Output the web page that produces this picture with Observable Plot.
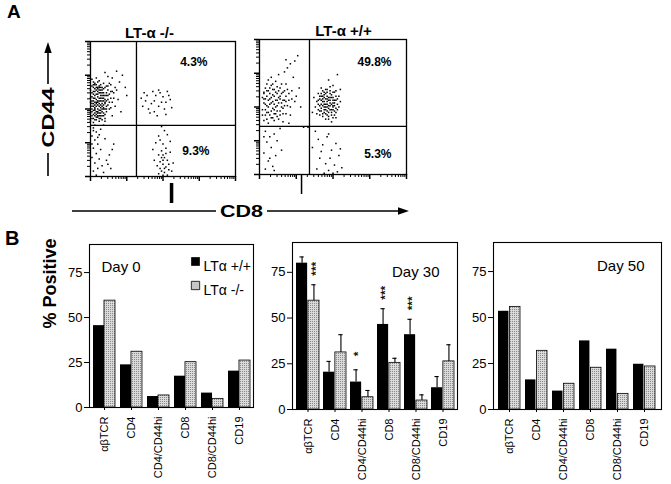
<!DOCTYPE html>
<html><head><meta charset="utf-8">
<script src="https://cdn.jsdelivr.net/npm/d3@7"></script>
<script src="https://cdn.jsdelivr.net/npm/@observablehq/plot@0.6"></script>
<style>
body{margin:0;background:#fff;}
#fig{position:relative;width:671px;height:484px;overflow:hidden;background:#fff;font-family:"Liberation Sans",Arial,Helvetica,sans-serif;}
#fig svg{position:absolute;overflow:visible;}
#fig text{fill:black;}
</style></head><body><div id="fig"></div>
<script>
// ---------- Panel B data ----------
const categories = ["αβTCR","CD4","CD4/CD44hi","CD8","CD8/CD44hi","CD19"];
const yTicks = [0,25,50,75];
const day0WT  = [45.5,23.7,6.1,17.4,8.0,20.2];
const day0KO  = [59.4,31.0,6.7,25.2,4.8,26.1];
const day30WT = [80.0,20.4,15.0,46.5,40.9,11.9];
const day30KO = [59.5,31.2,6.7,25.5,4.9,26.3];
const day30WTErr = [83.4,26.3,21.7,55.1,49.3,18.0];
const day30KOErr = [68.2,40.9,10.4,28.0,8.0,35.4];
const day30WTSig = ["","","*","***","***",""];
const day30KOSig = ["***","","","","",""];
const day50WT = [53.4,16.1,10.0,37.3,32.8,24.6];
const day50KO = [55.8,31.9,14.0,22.7,8.5,23.4];
const legendLabels = ["LTα +/+","LTα -/-"];

// ---------- Panel A data (percent of plot range, log channels) ----------
const koTitle = "LT-α -/-";
const wtTitle = "LT-α +/+";
const koGate = [31.7, 37.8];
const wtGate = [34, 35.6];
const koPct = ["4.3%","9.3%"];
const wtPct = ["49.8%","5.3%"];
const koMarker = [55.9, -5.2, -20];
const wtMarker = [28.6, -0.7, -14.8];
const koPoints = [
[2,70],[4,68],[6,71],[3,65],[5,63],[8,66],[1,62],[7,60],[9,62],[2,58],[4,57],[6,58],[10,57],[3,55],[5,53],[8,54],[1,52],[7,51],[11,52],[2,49],[4,48],[6,49],[9,47],[3,45],[5,44],[8,45],[1,43],[10,43],[6,41],[2,40],[4,61],[7,64],[9,69],[12,60],[13,55],[11,48],[3,60],[5,66],[8,58],[1,56],[6,54],[10,50],[2,46],[4,52],[12,64],[14,58],[7,47],[9,53],[3,50],[5,59],[1,67],[6,62],[8,50],[11,56],[2,63],[4,44],[13,50],[7,56],[5,47],[3,42],
[2,66],[4,64],[6,66],[8,62],[10,60],[3,53],[5,50],[7,53],[9,56],[1,48],[4,55],[6,45],[2,54],[8,48],[10,54],[3,68],[5,56],[7,58],[9,50],[11,60],
[1,45],[3,47],[5,45],[7,43],[9,45],[1,50],[3,51],[5,48],[7,49],[9,51],[11,50],[0,55],[2,56],[4,54],[6,56],[8,56],[10,55],[12,57],[1,59],[3,58],[5,61],[7,62],[9,60],[11,62],[0,64],[2,61],[4,66],[6,64],[8,64],[10,66],[3,69],[5,70],[7,68],[1,72],[4,73],[6,67],[9,65],[11,67],[2,52],[6,52],[8,52],[10,46],[4,46],[6,47],[0,47],[12,53],[13,61],[14,63],[12,67],[2,68],[0,58],[3,63],[5,65],[7,66],[8,60],[9,58],[1,54],[3,49],[5,55],[7,45],[4,42],[2,43],[6,43],[8,42],[10,41],[0,41],[15,55],[14,51],[16,58],[17,66],[13,69],[15,63],
[15,73],[18,78],[20,70],[22,75],[24,66],[16,62],[19,57],[14,68],[25,60],[17,52],[21,48],[12,74],[10,77],[15,45],[18,64],
[2,36],[4,33],[1,30],[6,31],[3,27],[5,24],[2,21],[7,20],[4,17],[1,14],[6,13],[3,10],[8,8],[5,6],[2,4],[9,3],[4,1],[11,12],[13,16],[15,20],[16,24],[12,9],[14,6],[10,28],[7,35],[9,38],[3,38],[1,24],[5,29],[2,34],
[35,58],[38,56],[42,54],[45,60],[48,62],[50,59],[53,63],[55,57],[40,50],[44,48],[47,52],[51,50],[36,52],[43,63],[49,55],[52,46],[46,45],[39,60],[56,51],[41,47],[44,56],[47,64],[52,55],[54,60],[37,62],
[49,37],[51,34],[47,30],[53,31],[48,27],[50,24],[45,25],[52,21],[49,19],[55,18],[47,16],[51,14],[53,12],[48,11],[50,9],[46,8],[52,7],[54,5],[49,4],[51,3],[47,2],[53,1],[50,1],[56,4],[44,12],[43,20],[55,26],[57,10],[50,16],[48,6],[52,17],[50,12],[54,9],[49,14],[51,6]
];
const wtPoints = [
[4,64],[6,62],[8,66],[10,63],[12,60],[14,64],[16,61],[18,58],[5,58],[7,56],[9,59],[11,55],[13,57],[15,53],[17,55],[19,51],[4,52],[6,50],[8,53],[10,48],[12,51],[14,47],[16,49],[18,45],[5,46],[7,44],[9,42],[11,45],[13,41],[3,40],[6,38],[20,60],[22,56],[3,56],[2,48],[15,67],[11,69],[8,72],[13,74],[17,76],[19,79],[21,82],[24,84],[18,85],[26,88],[23,72],[27,64],[25,58],[28,50],[21,44],[6,70],[3,61],[9,49],[12,43],[16,39],[20,38],[4,44],[14,56],[10,52],[18,67],
[3,60],[5,62],[7,60],[9,63],[11,61],[13,62],[15,60],[17,62],[4,56],[6,55],[8,57],[10,58],[12,55],[14,58],[16,55],[18,54],[3,53],[5,51],[7,52],[9,54],[11,50],[13,53],[15,50],[17,51],[2,44],[4,48],[6,46],[8,47],[10,45],[12,47],[14,44],[16,45],[7,64],[9,67],[12,65],[5,67],[2,57],[20,55],[19,63],[21,50],[8,42],[10,40],[5,41],[22,62],[24,54],
[41,58],[43,56],[45,60],[47,57],[49,59],[51,55],[42,52],[44,50],[46,54],[48,51],[50,53],[52,49],[41,47],[43,45],[45,48],[47,46],[49,44],[51,47],[44,61],[48,62],[46,58],[50,57],[42,49],[46,50],[48,55],[44,54],[40,55],[53,52],[54,58],[38,50],[37,57],[39,45],[52,42],[45,41],[49,39],[55,63],[50,66],[47,70],[53,74],[36,46],[42,64],[51,61],[40,60],[45,52],[47,49],[43,58],[49,48],[50,50],[44,46],[46,63],
[42,60],[44,59],[46,61],[48,60],[50,61],[52,58],[41,56],[43,54],[45,56],[47,55],[49,57],[51,53],[42,55],[44,57],[46,56],[48,57],[50,55],[52,55],[41,51],[43,51],[45,50],[47,51],[49,52],[51,51],[42,47],[44,48],[46,47],[48,48],[50,48],[52,46],[43,43],[45,45],[47,43],[49,46],[51,44],[44,52],[46,52],[48,53],[50,51],[42,58],[40,52],[40,48],[53,56],[54,50],[39,54],[45,63],[48,65],[43,62],[52,62],[41,44],[47,41],[50,42],[46,44],[53,48],[55,54],
[4,32],[7,28],[10,30],[5,24],[8,20],[3,16],[11,14],[6,10],[9,6],[4,4],[12,25],[14,34],[7,12],[3,28],[10,3],[15,18],
[38,32],[40,26],[43,22],[46,28],[49,18],[52,23],[55,19],[41,12],[45,8],[48,12],[51,7],[54,14],[39,4],[44,1],[47,3],[50,1],[53,2],[56,5],[42,17],[47,30],[36,20],[33,35],[30,35]
];

const FONT = '"Liberation Sans", Arial, Helvetica, sans-serif';
const fig = document.getElementById("fig");

function place(svg, left, top) {
  svg.style.left = left + "px";
  svg.style.top = top + "px";
  fig.appendChild(svg);
}

// log-decade ticks for the cytometry axes (4 decades over 0..100)
const majorTicks = d3.range(0, 5).map(d => d * 25);
const minorTicks = d3.range(0, 4).flatMap(d => d3.range(2, 10).map(k => (d + Math.log10(k)) * 25));

function scatter(o) {
  return Plot.plot({
    width: o.width, height: o.height,
    marginLeft: o.ml, marginRight: o.mr, marginTop: o.mt, marginBottom: o.mb,
    x: {domain: [0, 100]}, y: {domain: [0, 100]},
    style: {fontFamily: FONT, background: "transparent", color: "black"},
    marks: [
      Plot.dot(o.points, {x: d => d[0], y: d => d[1], r: 0.85, symbol: "square", fill: "black"}),
      Plot.ruleX([o.gate[0]], {stroke: "black", strokeWidth: 1.3}),
      Plot.ruleY([o.gate[1]], {stroke: "black", strokeWidth: 1.3}),
      Plot.frame({stroke: "black", strokeWidth: 1.3}),
      Plot.axisX({ticks: minorTicks, tickSize: 3, tickFormat: () => "", label: null}),
      Plot.axisX({ticks: majorTicks, tickSize: 5, tickFormat: () => "", label: null, strokeWidth: 1.5}),
      Plot.axisY({ticks: minorTicks, tickSize: 3, tickFormat: () => "", label: null}),
      Plot.axisY({ticks: majorTicks, tickSize: 5, tickFormat: () => "", label: null, strokeWidth: 1.5}),
      Plot.ruleX([o.marker[0]], {y1: o.marker[1], y2: o.marker[2], stroke: "black", strokeWidth: o.markerWidth}),
      Plot.text([o.title], {frameAnchor: "top", dx: o.titleDx, dy: -14, fontWeight: "bold", fontSize: 15, fill: "black"}),
      Plot.text([o.pct[0]], {frameAnchor: "top-right", textAnchor: "end", dx: o.pctTop[0], dy: o.pctTop[1], fontWeight: "bold", fontSize: 12, fill: "black"}),
      Plot.text([o.pct[1]], {frameAnchor: "bottom-right", textAnchor: "end", dx: o.pctBot[0], dy: o.pctBot[1], fontWeight: "bold", fontSize: 12, fill: "black"})
    ]
  });
}

place(scatter({points: koPoints, gate: koGate, title: koTitle, pct: koPct, marker: koMarker, markerWidth: 3.5,
  titleDx: -13.5, pctTop: [-28, 16], pctBot: [-26, -22],
  width: 190, height: 200, ml: 30, mr: 15, mt: 41, mb: 24}), 60, 0);
place(scatter({points: wtPoints, gate: wtGate, title: wtTitle, pct: wtPct, marker: wtMarker, markerWidth: 1.5,
  titleDx: 10.5, pctTop: [-15, 18], pctBot: [-15, -17],
  width: 170, height: 200, ml: 9, mr: 14, mt: 39, mb: 26}), 250, 0);

function barChart(o) {
  const n = categories.length;
  const W = o.width - o.ml - o.mr;
  const step = W / (n - o.pi + 2 * o.po);
  const bw = step * (1 - o.pi);
  const half = bw / 2;
  const cap = 2.5;
  const rows = categories.map((cat, i) => ({
    cat, wt: o.wt[i], ko: o.ko[i],
    wtErr: o.wtErr ? o.wtErr[i] : null, koErr: o.koErr ? o.koErr[i] : null,
    wtSig: o.wtSig ? o.wtSig[i] : "", koSig: o.koSig ? o.koSig[i] : ""
  }));
  const marks = [
    Plot.barY(rows, {x: "cat", y: "wt", fill: "black", insetRight: half}),
    Plot.barY(rows, {x: "cat", y: "ko", fill: "url(#stip)", stroke: "black", strokeWidth: 0.8, insetLeft: half})
  ];
  if (o.wtErr) {
    const sigStyle = {rotate: -89.9, dy: -16, fontSize: 12, fill: "black", stroke: "black", strokeWidth: 0.25};
    marks.push(
      Plot.ruleX(rows, {x: "cat", y1: "wt", y2: "wtErr", dx: -half / 2, stroke: "black", strokeWidth: 1.1}),
      Plot.tickY(rows, {x: "cat", y: "wtErr", insetLeft: half / 2 - cap, insetRight: bw - half / 2 - cap, stroke: "black", strokeWidth: 1.1}),
      Plot.ruleX(rows, {x: "cat", y1: "ko", y2: "koErr", dx: half / 2, stroke: "black", strokeWidth: 1.1}),
      Plot.tickY(rows, {x: "cat", y: "koErr", insetLeft: bw * 0.75 - cap, insetRight: bw * 0.25 - cap, stroke: "black", strokeWidth: 1.1}),
      Plot.text(rows.filter(d => d.wtSig), {x: "cat", y: "wtErr", text: "wtSig", dx: -half / 2 + 2, ...sigStyle}),
      Plot.text(rows.filter(d => d.koSig), {x: "cat", y: "koErr", text: "koSig", dx: half / 2 + 2, ...sigStyle})
    );
  }
  marks.push(
    Plot.frame({stroke: "black", strokeWidth: 1.1}),
    Plot.axisY({ticks: yTicks, tickSize: 5, tickPadding: 2, fontSize: 13, label: null}),
    Plot.axisX({tickRotate: -90, tickSize: 3, tickPadding: 6, fontSize: 11, label: null}),
    Plot.text([o.title], {frameAnchor: o.titleAnchor, textAnchor: o.titleAnchor === "top-left" ? "start" : "end", dx: o.titleDx, dy: o.titleDy, fontSize: 15, fill: "black"})
  );
  if (o.legend) {
    marks.push(
      Plot.dot([legendLabels[0]], {frameAnchor: "top-left", dx: 106, dy: 17, symbol: "square", r: 4.9, fill: "black"}),
      Plot.dot([legendLabels[1]], {frameAnchor: "top-left", dx: 106, dy: 41, symbol: "square", r: 4.7, fill: "url(#stip)", stroke: "black", strokeWidth: 0.8}),
      Plot.text([legendLabels[0]], {frameAnchor: "top-left", textAnchor: "start", dx: 114, dy: 17, fontSize: 14, fill: "black"}),
      Plot.text([legendLabels[1]], {frameAnchor: "top-left", textAnchor: "start", dx: 114, dy: 41, fontSize: 14, fill: "black"}),
      Plot.text(["% Positive"], {frameAnchor: "left", dx: -39, dy: 2.5, rotate: -90, fontSize: 18, fontWeight: "bold", fill: "black"})
    );
  }
  return Plot.plot({
    width: o.width, height: 259,
    marginLeft: o.ml, marginRight: o.mr, marginTop: o.mt, marginBottom: o.mb,
    x: {domain: categories, paddingInner: o.pi, paddingOuter: o.po},
    y: {domain: [0, o.ymax]},
    style: {fontFamily: FONT, background: "transparent", color: "black"},
    marks
  });
}

place(barChart({wt: day0WT, ko: day0KO, title: "Day 0", titleAnchor: "top-left", titleDx: 12, titleDy: 16.5, legend: true,
  width: 262, ml: 89, mr: 9, mt: 19, mb: 77, ymax: 90.6, pi: 0.2, po: 0.09}), 0, 225);
place(barChart({wt: day30WT, ko: day30KO, wtErr: day30WTErr, koErr: day30KOErr, wtSig: day30WTSig, koSig: day30KOSig,
  title: "Day 30", titleAnchor: "top-right", titleDx: -18, titleDy: 23.5,
  width: 200, ml: 30, mr: 5, mt: 17, mb: 75, ymax: 91.3, pi: 0.15, po: 0.03}), 262, 225);
place(barChart({wt: day50WT, ko: day50KO, title: "Day 50", titleAnchor: "top-right", titleDx: -17, titleDy: 17.5,
  width: 209, ml: 31, mr: 10, mt: 17, mb: 75, ymax: 90.8, pi: 0.17, po: 0.1}), 462, 225);

// ---------- overlay: panel letters, axis arrows, stipple pattern ----------
const ns = "http://www.w3.org/2000/svg";
const ov = document.createElementNS(ns, "svg");
ov.setAttribute("width", 671); ov.setAttribute("height", 484);
ov.style.left = "0px"; ov.style.top = "0px"; ov.style.pointerEvents = "none";
ov.innerHTML = `
<defs>
  <pattern id="stip" width="2" height="2" patternUnits="userSpaceOnUse">
    <rect width="2" height="2" fill="#dadada"></rect>
    <rect width="1" height="1" fill="#8a8a8a"></rect>
  </pattern>
</defs>
<g font-family='${FONT}' font-weight="bold" fill="black">
  <text x="7" y="18" font-size="19">A</text>
  <text x="5" y="245" font-size="20">B</text>
  <text transform="translate(54,117.5) rotate(-90)" text-anchor="middle" font-size="17" textLength="60" lengthAdjust="spacingAndGlyphs">CD44</text>
  <text x="241.5" y="217" text-anchor="middle" font-size="17" textLength="43" lengthAdjust="spacingAndGlyphs">CD8</text>
</g>
<g stroke="black" stroke-width="1.6" fill="none">
  <line x1="48" y1="176" x2="48" y2="153"></line>
  <line x1="48" y1="84" x2="48" y2="52"></line>
  <line x1="72" y1="211" x2="216" y2="211"></line>
  <line x1="267" y1="211" x2="400" y2="211"></line>
</g>
<polygon points="48,42 44.3,53 51.7,53" fill="black"></polygon>
<polygon points="409,211 398,207.3 398,214.7" fill="black"></polygon>
`;
fig.appendChild(ov);
</script>
</body></html>
